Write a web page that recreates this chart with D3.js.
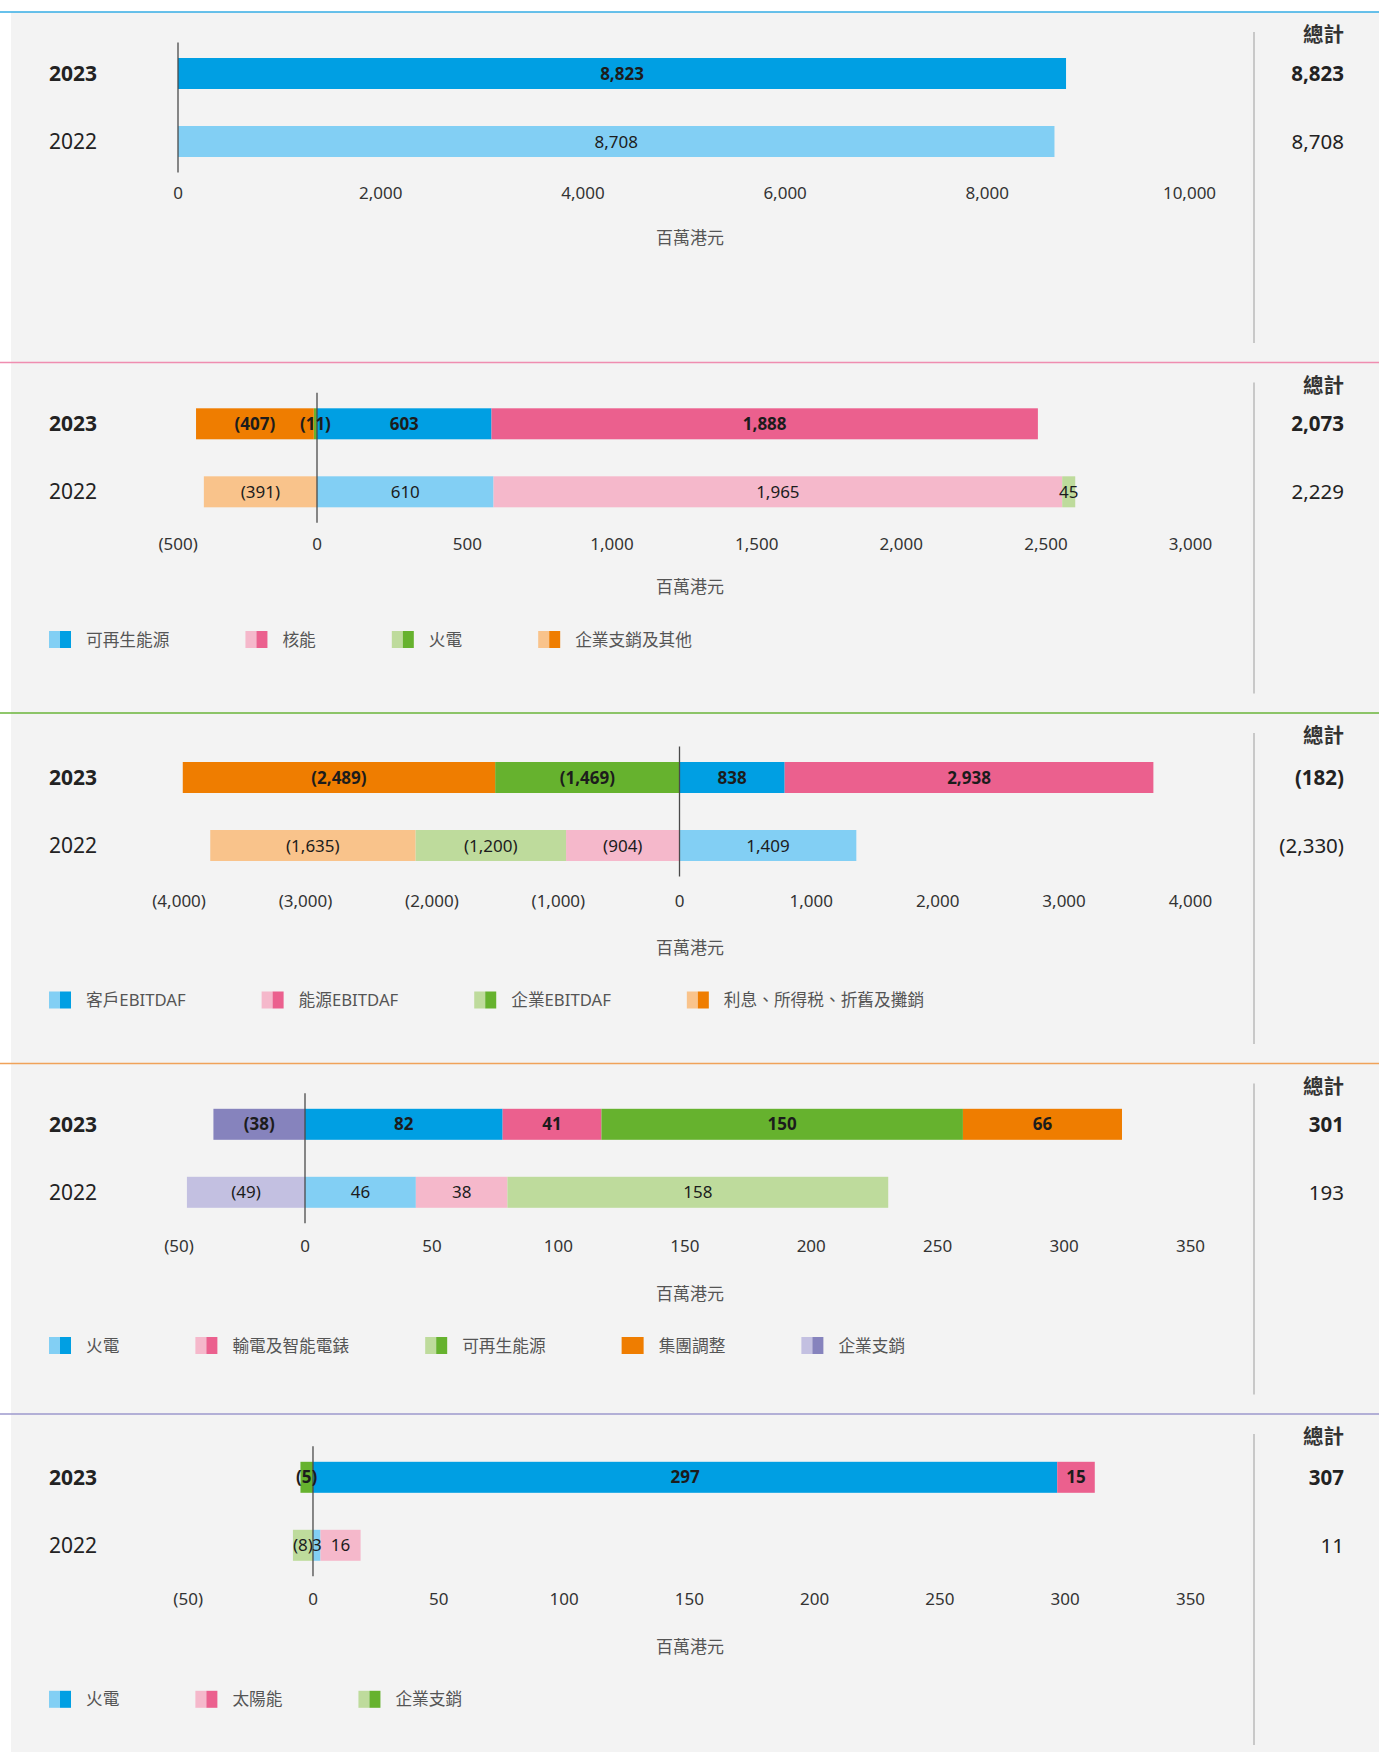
<!DOCTYPE html>
<html>
<head>
<meta charset="utf-8">
<script src="https://cdn.jsdelivr.net/npm/d3@7"></script>
<style>
body { margin: 0; background: #fff; }
text { font-family: "Noto Sans", "Noto Sans CJK TC", sans-serif; }
</style>
</head>
<body>
<script>
var years = ["2023", "2022"];

// panel 1 - single total bar
var p1Keys = ["總額"];
var p1Values2023 = [8823];
var p1Values2022 = [8708];
var p1Ticks = [0, 2000, 4000, 6000, 8000, 10000];

// panel 2
var p2Keys = ["可再生能源", "核能", "火電", "企業支銷及其他"];
var p2Values2023 = [603, 1888, -11, -407];
var p2Values2022 = [610, 1965, 45, -391];
var p2Ticks = [-500, 0, 500, 1000, 1500, 2000, 2500, 3000];

// panel 3
var p3Keys = ["客戶EBITDAF", "能源EBITDAF", "企業EBITDAF", "利息、所得税、折舊及攤銷"];
var p3Values2023 = [838, 2938, -1469, -2489];
var p3Values2022 = [1409, -904, -1200, -1635];
var p3Ticks = [-4000, -3000, -2000, -1000, 0, 1000, 2000, 3000, 4000];

// panel 4
var p4Keys = ["火電", "輸電及智能電錶", "可再生能源", "集團調整", "企業支銷"];
var p4Values2023 = [82, 41, 150, 66, -38];
var p4Values2022 = [46, 38, 158, 0, -49];
var p4Ticks = [-50, 0, 50, 100, 150, 200, 250, 300, 350];

// panel 5
var p5Keys = ["火電", "太陽能", "企業支銷"];
var p5Values2023 = [297, 15, -5];
var p5Values2022 = [3, 16, -8];
var p5Ticks = [-50, 0, 50, 100, 150, 200, 250, 300, 350];

var unitLabel = "百萬港元";
var totalLabel = "總計";

var palette = {
  blue:   ["#82cff4", "#009fe3"],
  pink:   ["#f5b8cb", "#eb608e"],
  green:  ["#bedb9c", "#66b22e"],
  orange: ["#f9c38b", "#ef7d00"],
  purple: ["#c3c0e1", "#8683bd"]
};

// layout per panel: axis range, bar range (the original bars are not always on the tick scale),
// vertical positions relative to the panel's top rule
var panels = [
  {keys: p1Keys, values: [p1Values2023, p1Values2022], ticks: p1Ticks, colors: ["blue"],
   legend: false, line: "#35ade5", range: [178, 1189], barRange: [178, 1184.5],
   barY: 61.5, tickY: 181, unitY: 226},
  {keys: p2Keys, values: [p2Values2023, p2Values2022], ticks: p2Ticks, colors: ["blue", "pink", "green", "orange"],
   legend: true, line: "#ef8db0", range: [177.7, 1190], barRange: [172.3, 1185.2],
   barY: 61.3, tickY: 181, unitY: 224.5, legendY: 277},
  {keys: p3Keys, values: [p3Values2023, p3Values2022], ticks: p3Ticks, colors: ["blue", "pink", "green", "orange"],
   legend: true, line: "#6ab43a", range: [178.6, 1190], barRange: [177.5, 1181.5],
   barY: 64.5, tickY: 187.7, unitY: 235, legendY: 287},
  {keys: p4Keys, values: [p4Values2023, p4Values2022], ticks: p4Ticks, colors: ["blue", "pink", "green", "orange", "purple"],
   legend: true, line: "#f0a259", range: [178.6, 1190], barRange: [184.5, 1148.5],
   barY: 60.8, tickY: 182.5, unitY: 230, legendY: 282},
  {keys: p5Keys, values: [p5Values2023, p5Values2022], ticks: p5Ticks, colors: ["blue", "pink", "green"],
   legend: true, line: "#9c99cd", range: [187.7, 1190], barRange: [187.7, 1190],
   barY: 63.3, tickY: 185.3, unitY: 232.7, legendY: 285.3}
];

var W = 1379, H = 1752;
var panelTop = 12, panelStep = 350.5;

var num = d3.format(",");
function fmt(v) { return v < 0 ? "(" + num(-v) + ")" : num(v); }

var svg = d3.select("body").append("svg")
  .attr("width", W)
  .attr("height", H);

svg.append("rect")
  .attr("x", 11).attr("y", panelTop)
  .attr("width", W - 11).attr("height", H - panelTop)
  .attr("fill", "#f3f3f3");

panels.forEach(function(p, i) {
  var T = panelTop + i * panelStep;
  var g = svg.append("g").attr("transform", "translate(0," + T + ")");

  var axisX = d3.scaleLinear()
    .domain(d3.extent(p.ticks))
    .range(p.range);
  var x = d3.scaleLinear()
    .domain(d3.extent(p.ticks))
    .range(p.barRange);
  var y = d3.scalePoint()
    .domain(years)
    .range([p.barY, p.barY + 68]);
  var barH = 31;

  // coloured rule at top of the panel
  g.append("line")
    .attr("x1", 0).attr("x2", W)
    .attr("y1", 0).attr("y2", 0)
    .attr("stroke", p.line)
    .attr("stroke-width", 1.6);

  var rows = years.map(function(yr, yi) {
    var r = {year: yr};
    p.keys.forEach(function(k, ki) { r[k] = p.values[yi][ki]; });
    return r;
  });

  var series = d3.stack()
    .keys(p.keys)
    .offset(d3.stackOffsetDiverging)(rows);

  var bars = g.append("g");

  // zero line
  g.append("line")
    .attr("x1", x(0)).attr("x2", x(0))
    .attr("y1", p.barY - 31).attr("y2", p.barY + 68 + 31)
    .attr("stroke", "#4a4a4a")
    .attr("stroke-width", 1.3);

  var labels = g.append("g");

  series.forEach(function(s, ki) {
    var pair = palette[p.colors[ki]];
    s.forEach(function(d) {
      var v = d.data[s.key];
      if (v === 0) return;
      var dark = d.data.year === years[0];
      var x0 = x(d[0]), x1 = x(d[1]);
      bars.append("rect")
        .attr("x", Math.min(x0, x1))
        .attr("y", y(d.data.year) - barH / 2)
        .attr("width", Math.abs(x1 - x0))
        .attr("height", barH)
        .attr("fill", dark ? pair[1] : pair[0]);
      labels.append("text")
        .attr("x", (x0 + x1) / 2)
        .attr("y", y(d.data.year))
        .attr("dy", "0.36em")
        .attr("text-anchor", "middle")
        .attr("font-size", 17)
        .attr("font-weight", dark ? 700 : 400)
        .attr("fill", "#1c1c1c")
        .text(fmt(v));
    });
  });

  // year labels
  years.forEach(function(yr, yi) {
    g.append("text")
      .attr("x", 49)
      .attr("y", y(yr))
      .attr("dy", "0.36em")
      .attr("font-size", 21)
      .attr("font-weight", yi === 0 ? 700 : 400)
      .attr("fill", "#222")
      .text(yr);
  });

  // axis
  var axis = g.append("g")
    .attr("transform", "translate(0," + (p.tickY - 21) + ")")
    .call(d3.axisBottom(axisX).tickValues(p.ticks).tickFormat(fmt).tickSize(0).tickPadding(15));
  axis.select(".domain").remove();
  axis.attr("font-family", null);
  axis.selectAll("text")
    .attr("font-size", 17)
    .attr("fill", "#333");
  // the "0" label sits under the zero line
  axis.selectAll(".tick")
    .filter(function(d) { return d === 0; })
    .attr("transform", "translate(" + x(0) + ",0)");

  g.append("text")
    .attr("x", 690)
    .attr("y", p.unitY)
    .attr("dy", "0.36em")
    .attr("text-anchor", "middle")
    .attr("font-size", 17)
    .attr("fill", "#555")
    .text(unitLabel);

  // totals column
  g.append("line")
    .attr("x1", 1254).attr("x2", 1254)
    .attr("y1", 20).attr("y2", 331)
    .attr("stroke", "#c8c8c8")
    .attr("stroke-width", 2);

  g.append("text")
    .attr("x", 1344)
    .attr("y", 23)
    .attr("dy", "0.36em")
    .attr("text-anchor", "end")
    .attr("font-size", 20.5)
    .attr("font-weight", 700)
    .attr("fill", "#333")
    .text(totalLabel);

  years.forEach(function(yr, yi) {
    g.append("text")
      .attr("x", 1344)
      .attr("y", y(yr))
      .attr("dy", "0.36em")
      .attr("text-anchor", "end")
      .attr("font-size", 20.5)
      .attr("font-weight", yi === 0 ? 700 : 400)
      .attr("fill", "#222")
      .text(fmt(d3.sum(p.values[yi])));
  });

  // legend
  if (p.legend) {
    var lx = 49;
    p.keys.forEach(function(k, ki) {
      var pair = palette[p.colors[ki]];
      var solid = p.values[1][ki] === 0;
      var item = g.append("g").attr("transform", "translate(" + lx + "," + (p.legendY - 8.5) + ")");
      item.append("rect")
        .attr("width", solid ? 22 : 11).attr("height", 17)
        .attr("fill", solid ? pair[1] : pair[0]);
      if (!solid) {
        item.append("rect")
          .attr("x", 11)
          .attr("width", 11).attr("height", 17)
          .attr("fill", pair[1]);
      }
      var t = item.append("text")
        .attr("x", 37)
        .attr("y", 8.5)
        .attr("dy", "0.36em")
        .attr("font-size", 16.7)
        .attr("fill", "#555")
        .text(k);
      lx += 37 + t.node().getComputedTextLength() + 76;
    });
  }
});
</script>
</body>
</html>
